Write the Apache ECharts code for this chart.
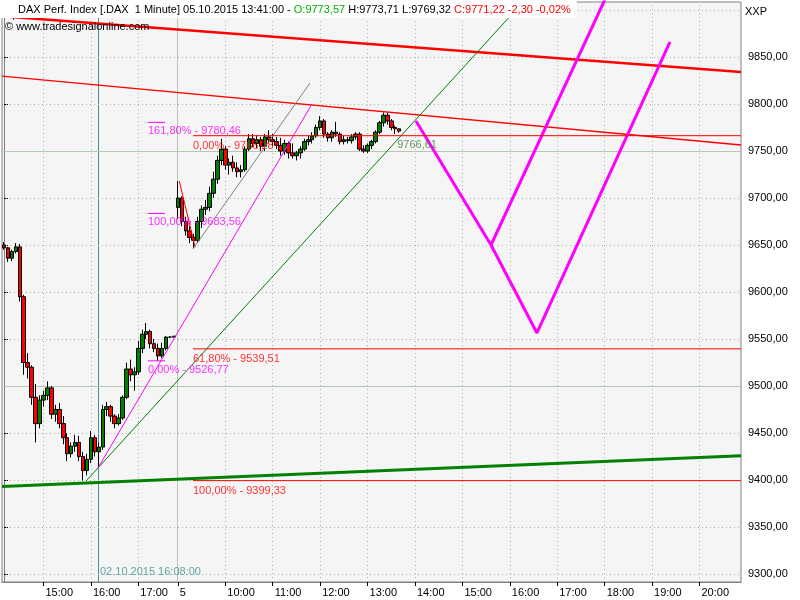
<!DOCTYPE html>
<html><head><meta charset="utf-8">
<script src="https://cdn.jsdelivr.net/npm/echarts@6/dist/echarts.min.js"></script>
<style>html,body{margin:0;padding:0;background:#fff}#c{width:800px;height:600px}</style>
</head><body><div id="c"></div>
<script>
const FONT = 'Liberation Sans';

// ---- sessions (5-minute bars) ----
const day1Range = ['14:10', '17:45'];   // 02.10.2015
const day2Range = ['09:00', '20:50'];   // 05.10.2015
function buildTimes(start, end, step) {
  const out = [];
  let [h, m] = start.split(':').map(Number);
  const [eh, em] = end.split(':').map(Number);
  while (h * 60 + m <= eh * 60 + em) {
    out.push(String(h).padStart(2, '0') + ':' + String(m).padStart(2, '0'));
    m += step; if (m >= 60) { h++; m -= 60; }
  }
  return out;
}
const day1Cats = buildTimes(day1Range[0], day1Range[1], 5);
const day2Cats = buildTimes(day2Range[0], day2Range[1], 5);
const categories = day1Cats.concat(day2Cats);
const N = categories.length;
const dayBreakIdx = day1Cats.length;

// ---- prices: [open, high, low, close] ----
const day1OHLC = [
  [9650,9653,9645,9647],[9647,9648,9632,9636],[9636,9645,9633,9643],[9643,9652,9641,9648],
  [9648,9651,9590,9595],[9595,9597,9512,9525],[9525,9535,9508,9520],[9520,9522,9480,9488],
  [9488,9502,9440,9460],[9460,9490,9455,9485],[9485,9495,9478,9490],[9490,9505,9485,9498],
  [9498,9500,9465,9470],[9470,9480,9462,9475],[9475,9482,9455,9460],[9460,9468,9438,9445],
  [9445,9450,9420,9428],[9428,9440,9424,9436],[9436,9448,9430,9440],[9440,9447,9420,9425],
  [9425,9430,9399.33,9410],[9410,9428,9405,9422],[9422,9452,9418,9445],[9445,9448,9425,9430],
  [9430,9440,9413,9435],[9435,9480,9432,9475],[9475,9483,9468,9478],[9478,9480,9462,9468],
  [9468,9470,9455,9460],[9460,9470,9458,9466],[9466,9490,9464,9488],[9488,9525,9486,9518],
  [9518,9528,9505,9512],[9512,9520,9495,9515],[9515,9548,9512,9540],[9540,9560,9535,9555],
  [9555,9567,9550,9558],[9558,9560,9540,9545],[9545,9550,9536,9540],[9540,9545,9526.77,9532],
  [9532,9546,9530,9540],[9540,9553,9538,9552],[9552,9553,9551,9552],[9552,9553,9552,9553]
];
const day2OHLC = [
  [9690,9718,9678,9700],[9700,9702,9670,9675],[9675,9680,9660,9665],[9665,9670,9652,9658],
  [9658,9662,9647,9655],[9655,9680,9652,9675],[9675,9692,9668,9688],[9688,9698,9682,9690],
  [9690,9712,9686,9705],[9705,9728,9700,9720],[9720,9745,9715,9740],[9740,9763,9735,9752],
  [9752,9755,9730,9735],[9735,9742,9725,9738],[9738,9745,9728,9732],[9732,9738,9722,9728],
  [9728,9735,9722,9730],[9730,9755,9728,9752],[9752,9768,9750,9763],[9763,9768,9754,9758],
  [9758,9767,9753,9762],[9762,9765,9750,9755],[9755,9768,9750,9765],[9765,9772,9758,9762],
  [9762,9768,9755,9760],[9760,9765,9752,9756],[9756,9764,9745,9750],[9750,9762,9746,9758],
  [9758,9760,9742,9748],[9748,9758,9742,9745],[9745,9750,9740,9748],[9748,9755,9742,9752],
  [9752,9763,9750,9760],[9760,9766,9756,9762],[9762,9770,9758,9766],[9766,9778,9764,9775],
  [9775,9787,9772,9782],[9782,9784,9764,9768],[9768,9770,9760,9764],[9764,9772,9760,9770],
  [9770,9781,9765,9768],[9768,9770,9757,9760],[9760,9766,9757,9762],[9762,9765,9758,9761],
  [9761,9768,9758,9765],[9765,9770,9762,9768],[9768,9770,9750,9752],[9752,9756,9748,9750],
  [9750,9758,9748,9756],[9756,9762,9752,9760],[9760,9772,9758,9770],[9770,9782,9768,9780],
  [9780,9791,9776,9788],[9788,9791,9778,9782],[9782,9784,9772,9775],[9775,9777,9768,9773.57],
  [9773.57,9773.71,9769.32,9771.22]
];

// ---- axes ----
const yMin = 9291.5, yMax = 9908.5;
const yLabelValues = [9300,9350,9400,9450,9500,9550,9600,9650,9700,9750,9800,9850];
const yGridValues = [9300,9350,9400,9450,9500,9550,9600,9650,9700,9750,9800,9850,9900];
const yMajorValues = [9500, 9750];

// ---- drawn objects (x = bar index, y = price) ----
const thickRedLine  = [[-0.5, 9893.4], [N - 0.5, 9834.0]];
const thinRedLine   = [[-0.5, 9829.6], [N - 0.5, 9756.4]];
const thickGreenLine= [[-0.5, 9393.0], [N - 0.5, 9425.7]];
const thinGreenLine = [[20.76, 9398.9], [135, 9925.3]];
const magentaThin   = [[23.79, 9412.8], [77.94, 9800.0]];
const grayThin      = [[47.83, 9645.7], [77.44, 9822.3]];
const redShort      = [[44.36, 9718.1], [48.34, 9648.2]];
const forecastA     = [[104.26, 9781.9], [123.24, 9650.0], [154.36, 9931.9]];
const forecastB     = [[123.24, 9650.0], [134.87, 9556.4], [168.53, 9866.0]];
const fibRedLevels  = [9766.28, 9539.51, 9399.33];
const fibRedNames   = ['0,00% - 9766,28', '61,80% - 9539,51', '100,00% - 9399,33'];
const fibRedStart   = 47.83;
const fibMagLevels  = [9780.46, 9683.56, 9526.77];
const fibMagNames   = ['161,80% - 9780,46', '100,00% - 9683,56', '0,00% - 9526,77'];
const fibMagRange   = [36.44, 40.75];
const cursorIdx = 23.79;           // 02.10.2015 16:08
const cursorLabel = '02.10.2015 16:08:00';
const currentLineValue = 9766.61;
const currentLineLabel = '9766,61';

const candleData = day1OHLC.concat(day2OHLC).map(d => [d[0], d[3], d[2], d[1]]);

const isTickCat = (i, v) => i === dayBreakIdx || v.endsWith(':00');
const hourIdx = categories.map((v, i) => (v.endsWith(':00') && i !== dayBreakIdx) ? i : null).filter(v => v !== null);

function seg(data, color, width, z) {
  return { type: 'line', xAxisIndex: 1, yAxisIndex: 0, data, symbol: 'none', silent: true,
    lineStyle: { color, width }, z: z || 4, clip: true };
}

const gridMarks = [];
hourIdx.forEach(i => gridMarks.push({ xAxis: i, lineStyle: { color: '#a9b9a9', type: [1, 3], width: 1 } }));
gridMarks.push({ xAxis: dayBreakIdx - 0.1, lineStyle: { color: '#b4c8b4', type: 'solid', width: 1 } });
gridMarks.push({ xAxis: cursorIdx, lineStyle: { color: '#3f8f93', type: 'solid', width: 1 } });
yGridValues.forEach(v => gridMarks.push({ yAxis: v, lineStyle: yMajorValues.includes(v)
  ? { color: '#b4c8b4', type: 'solid', width: 1 } : { color: '#a9b9a9', type: [1, 3], width: 1 } }));

const labelItems = [];
fibMagLevels.forEach((v, i) => labelItems.push({ value: [fibMagRange[0], v], label: { formatter: fibMagNames[i], color: '#ff00ff', offset: [0, 9] } }));
fibRedLevels.forEach((v, i) => labelItems.push({ value: [fibRedStart, v], label: { formatter: fibRedNames[i], color: '#ff0000', offset: [0, 10] } }));
labelItems.push({ value: [99.5, currentLineValue], label: { formatter: currentLineLabel, color: '#3d7f3d', offset: [0, 10] } });
labelItems.push({ value: [cursorIdx, 9302], label: { formatter: cursorLabel, color: '#3f8f93', offset: [2, 0] } });

const series = [
  { type: 'line', xAxisIndex: 1, yAxisIndex: 0, data: [[-100, 0]], symbol: 'none', silent: true, z: 1,
    lineStyle: { opacity: 0 },
    markLine: { silent: true, z: 1, symbol: ['none', 'none'], label: { show: false }, animation: false, data: gridMarks } },
  { type: 'candlestick', xAxisIndex: 0, yAxisIndex: 0, data: candleData, barWidth: 4, z: 2,
    itemStyle: { color: '#008000', color0: '#ff0000', borderColor: '#000000', borderColor0: '#000000', borderColorDoji: '#000000', borderWidth: 1 } },
  seg(thickRedLine, '#ff0000', 2.5),
  seg(thinRedLine, '#ff0000', 1.3),
  seg(thickGreenLine, '#008000', 3),
  seg(thinGreenLine, '#008000', 1),
  seg(magentaThin, '#ff00ff', 1),
  seg(grayThin, '#808080', 1),
  seg(redShort, '#ff0000', 1),
  seg(forecastA, '#ff00ff', 3),
  seg(forecastB, '#ff00ff', 3)
];
fibRedLevels.forEach(v => series.push(seg([[fibRedStart, v], [N - 0.5, v]], '#ff0000', 1)));
fibMagLevels.forEach(v => series.push(seg([[fibMagRange[0], v], [fibMagRange[1], v]], '#ff00ff', 1)));
series.push({ type: 'scatter', xAxisIndex: 1, yAxisIndex: 0, symbolSize: 0, silent: true, z: 6, data: labelItems,
  label: { show: true, position: 'right', distance: 0, fontSize: 11, fontFamily: FONT } });

const option = {
  animation: false,
  backgroundColor: '#ffffff',
  textStyle: { fontFamily: FONT },
  title: [
    { left: 0, top: 0, padding: [4, 6, 3, 18], backgroundColor: '#ffffff', z: 10,
      text: '{k|DAX Perf. Index [.DAX  1 Minute] 05.10.2015 13:41:00 - }{g|O:9773,57}{k| H:9773,71 L:9769,32 }{r|C:9771,22 -2,30 -0,02%}',
      textStyle: { fontSize: 11, fontWeight: 'normal', fontFamily: FONT,
        rich: { k: { color: '#000', fontSize: 11, fontFamily: FONT }, g: { color: '#00b000', fontSize: 11, fontFamily: FONT }, r: { color: '#ff0000', fontSize: 11, fontFamily: FONT } } } },
    { left: 5, top: 21, padding: 0, z: 10, text: '© www.tradesignalonline.com',
      textStyle: { fontSize: 11, fontWeight: 'normal', color: '#000', fontFamily: FONT } },
    { left: 745, top: 6, padding: 0, text: 'XXP', textStyle: { fontSize: 11, fontWeight: 'normal', color: '#000', fontFamily: FONT } }
  ],
  graphic: [
    { type: 'group', left: 6, top: 4, z: 20, children: [
      { type: 'line', shape: { x1: 5, y1: 0, x2: 5, y2: 13 }, style: { stroke: '#000', lineWidth: 1 } },
      { type: 'line', shape: { x1: 0, y1: 6.5, x2: 10, y2: 6.5 }, style: { stroke: '#000', lineWidth: 1 } },
      { type: 'rect', shape: { x: 2.5, y: 2.5, width: 5, height: 8 }, style: { fill: '#008000', stroke: '#000', lineWidth: 1 } }
    ] }
  ],
  grid: { left: 2, right: 59, top: 2, bottom: 18, show: true, backgroundColor: '#f5f5f5', borderColor: '#808080', borderWidth: 1 },
  xAxis: [
    { type: 'category', data: categories, boundaryGap: true,
      axisLine: { lineStyle: { color: '#808080' } },
      axisTick: { show: true, interval: isTickCat, alignWithLabel: true, length: 4, lineStyle: { color: '#000' } },
      axisLabel: { interval: isTickCat, formatter: (v, i) => i === dayBreakIdx ? '5' : v, align: 'left', margin: 5,
        padding: [0, 0, 0, 2], color: '#000', fontSize: 11, fontFamily: FONT, hideOverlap: false },
      splitLine: { show: false } },
    { type: 'value', min: -0.5, max: N - 0.5, show: false }
  ],
  yAxis: { type: 'value', position: 'right', min: yMin, max: yMax,
    axisLine: { show: true, lineStyle: { color: '#808080' } },
    axisTick: { show: true, length: 4, customValues: yLabelValues, lineStyle: { color: '#000' } },
    axisLabel: { customValues: yLabelValues, formatter: v => v.toFixed(2).replace('.', ','), margin: 7,
      color: '#000', fontSize: 11, fontFamily: FONT },
    splitLine: { show: false } },
  series
};
const chart = echarts.init(document.getElementById('c'), null, { renderer: 'canvas' });
chart.setOption(option);
</script></body></html>
